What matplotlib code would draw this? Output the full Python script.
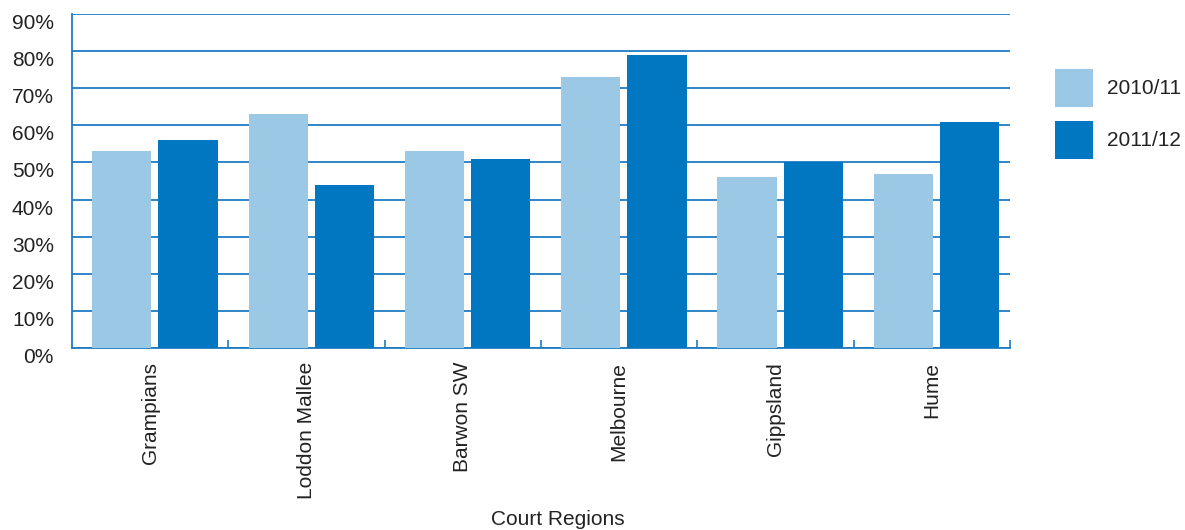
import numpy as np
import matplotlib.pyplot as plt
from matplotlib.ticker import FixedLocator

plt.rcParams['font.family'] = ['Liberation Sans', 'DejaVu Sans']

regions = ['Grampians', 'Loddon Mallee', 'Barwon SW', 'Melbourne', 'Gippsland', 'Hume']
years = ['2010/11', '2011/12']
rate_2010 = [53, 63, 53, 73, 46, 47]
rate_2011 = [56, 44, 51, 79, 50, 61]
y_ticks = [0, 10, 20, 30, 40, 50, 60, 70, 80, 90]

light = '#9bc8e5'
dark = '#0077c0'
line_blue = '#1f7cc2'
text_col = '#222222'
fs = 15

fig = plt.figure(figsize=(11.85, 5.30), dpi=100)
ax = fig.add_axes([0.0608, 0.3434, 0.7915, 0.6302])

x = np.arange(len(regions))
w = 0.378
shift = 0.03
ax.bar(x - 0.212 + shift, rate_2010, w, color=light, label=years[0], zorder=3)
ax.bar(x + 0.212 + shift, rate_2011, w, color=dark, label=years[1], zorder=3)

ax.set_xlim(-0.5, len(regions) - 0.5)
ax.set_ylim(0, 90)
ax.set_yticks(y_ticks)
ax.set_yticklabels([f'{v}%' for v in y_ticks], fontsize=fs, color=text_col)
ax.tick_params(axis='y', length=0, pad=13)
for lab in ax.get_yticklabels():
    lab.set_va('top')
ax.yaxis.grid(True, color=line_blue, linewidth=1.3, zorder=1)
ax.set_axisbelow(True)

ax.set_xticks(x)
ax.set_xticklabels(regions, rotation=90, fontsize=fs, color=text_col)
ax.tick_params(axis='x', which='major', length=0, pad=10)
ax.xaxis.set_minor_locator(FixedLocator(np.arange(0.5, len(regions), 1.0)))
ax.tick_params(axis='x', which='minor', direction='in', length=6, width=1.2, color=line_blue)

for side in ['top', 'right']:
    ax.spines[side].set_visible(False)
for side in ['left', 'bottom']:
    ax.spines[side].set_color(line_blue)
    ax.spines[side].set_linewidth(1.3)

ax.set_xlabel('Court Regions', fontsize=fs, color=text_col)
ax.xaxis.set_label_coords(0.518, -0.485)

fig.legend(loc='upper left', bbox_to_anchor=(1055 / 1185, 1 - 69 / 530),
           frameon=False, fontsize=fs, handlelength=1.82, handleheight=2.42,
           labelspacing=0.66, handletextpad=0.67, borderpad=0, borderaxespad=0,
           labelcolor=text_col)

fig.savefig('out.png', dpi=100)
